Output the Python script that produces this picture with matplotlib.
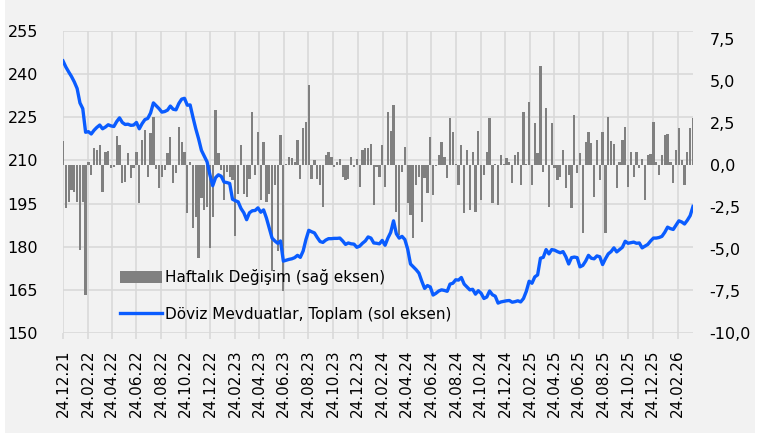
import pandas as pd
import numpy as np
import matplotlib
matplotlib.use("Agg")
import matplotlib.pyplot as plt
import matplotlib.dates as mdates
from matplotlib.patches import Rectangle

START_DATE = "2021-12-24"

# weekly FX deposits total (left axis)
level = [
    244.6, 242.5, 240.8, 239.2, 237.3, 235.0, 230.0, 228.0, 219.8, 220.0,
    219.2, 220.5, 221.5, 222.3, 221.0, 221.6, 222.4, 222.0, 221.8, 223.5,
    224.8, 223.2, 222.5, 222.6, 222.2, 222.3, 223.2, 221.0, 222.8, 224.2,
    224.6, 226.5, 230.0, 229.0, 228.0, 226.8, 227.0, 227.5, 228.9, 227.8,
    227.6, 229.8, 231.3, 231.6, 229.2, 229.3, 225.0, 221.0, 217.5, 213.5,
    211.5, 209.5, 205.0, 201.2, 204.0, 205.0, 204.5, 202.5, 202.3, 202.0,
    196.5, 196.0, 195.6, 193.3, 191.8, 189.4, 191.8, 192.5, 192.6, 193.5,
    192.0, 192.8, 190.0, 186.5, 183.0, 182.0, 181.2, 182.0, 175.0, 175.3,
    175.6, 175.8, 176.2, 177.0, 176.3, 178.5, 182.5, 185.7, 185.2, 184.8,
    183.2, 181.8, 181.5, 182.3, 182.8, 182.8, 182.9, 182.9, 183.0, 182.0,
    180.8, 181.3, 181.0, 180.9, 179.8, 180.2, 181.2, 182.0, 183.4, 183.0,
    181.3, 181.2, 181.0, 182.2, 180.5, 183.0, 185.0, 189.0, 184.5, 183.0,
    183.6, 182.5, 179.2, 174.0, 173.0, 172.0, 170.8, 168.0, 165.5, 166.5,
    166.0, 163.2, 163.8, 164.6, 165.0, 164.8, 164.5, 167.0, 167.3, 168.5,
    168.4, 169.3, 167.0, 166.0, 165.0, 165.2, 163.5, 164.7, 163.8, 162.0,
    162.5, 164.6, 163.3, 162.8, 160.4, 160.8, 161.0, 161.2, 161.3, 160.7,
    160.9, 161.2, 160.8, 162.0, 164.5, 168.0, 167.3, 169.5, 170.2, 176.0,
    176.3, 179.0, 177.5, 179.0, 178.8, 178.3, 177.9, 178.3, 176.5, 174.0,
    176.2, 176.4, 176.2, 173.0, 173.5, 175.0, 177.0, 176.0, 175.8, 176.8,
    176.5, 173.8, 175.8, 177.5, 178.3, 179.6, 178.2, 179.0, 179.8, 181.9,
    181.2, 181.4, 181.6, 181.2, 181.3, 179.6, 180.2, 180.8, 182.0, 183.0,
    183.0, 183.2, 183.6, 185.0, 186.8, 186.3, 186.0, 187.5, 189.0, 188.6,
    187.9, 189.2, 190.8, 194.0,
]

# weekly change (right axis)
change = [
    1.47, -2.56, -2.17, -1.47, -1.57, -2.17, -5.05, -2.17, -7.73, 0.2,
    -0.58, 1.0, 0.9, 1.2, -1.57, 0.8, 0.85, -0.18, -0.1, 1.77,
    1.2, -1.07, -1.0, 0.7, -0.78, -0.18, 0.8, -2.27, 1.5, 2.1,
    -0.7, 1.9, 2.9, -0.2, -1.37, -0.68, -0.28, 0.7, 1.7, -1.07,
    -0.48, 2.3, 1.4, 0.8, -2.86, 0.2, -3.76, -3.06, -5.55, -1.97,
    -2.66, -2.47, -4.95, -3.06, 3.3, 0.7, -0.3, -2.1, -0.4, -0.7,
    -0.9, -4.2, -1.7, 1.2, -1.7, -1.9, -0.8, 3.2, -0.6, 2.0,
    -2.1, 1.4, -2.2, -1.7, -6.3, -1.2, -5.1, 1.8, -7.5, 0.05,
    0.5, 0.45, 0.2, 1.5, -0.8, 2.2, 2.6, 4.8, -0.8, 0.3,
    -0.8, -1.2, -2.5, 0.6, 0.8, 0.5, -0.1, 0.2, 0.4, -0.7,
    -0.9, -0.8, 0.5, -0.1, 0.4, -1.3, 0.9, 1.0, 1.0, 1.25,
    -2.37, -0.1, -0.68, 1.2, -1.27, 3.2, 2.05, 3.6, -2.76, -4.15,
    -0.38, 1.1, -2.27, -2.96, -4.35, -1.17, -0.68, -3.36, -0.78, -1.67,
    1.7, -1.77, -0.05, 0.6, 1.4, 0.5, -0.78, 2.8, 2.0, 0.1,
    -1.17, 1.2, -2.86, 0.9, -2.66, 0.78, -2.76, 2.05, -2.07, -0.58,
    0.78, 2.8, -2.27, 0.05, -2.37, 0.6, 0.05, 0.46, 0.2, -1.07,
    0.6, 0.8, -1.17, 3.2, 0.1, 3.75, -1.2, 2.5, 0.7, 5.9,
    -0.38, 3.4, -2.47, 2.5, -0.18, -0.87, -0.68, 0.9, -1.37, -0.58,
    -2.56, 3.0, -0.48, 0.7, -4.05, 1.4, 2.0, 1.3, -1.87, 1.5,
    -0.87, 2.0, -4.05, 2.9, 1.45, 1.25, -1.33, 0.2, 1.5, 2.3,
    -1.27, 0.8, -0.68, 0.78, -0.18, 0.4, -2.07, 0.6, 0.65, 2.56,
    0.2, -0.58, 0.6, 1.8, 1.85, 0.2, -1.07, 0.9, 2.2, 0.3,
    -1.2, 0.8, 2.2, 2.8,
]

assert len(level) == len(change)
dates = pd.date_range(START_DATE, periods=len(level), freq="7D")

BG = "#F2F2F2"
GRID = "#D9D9D9"
plt.rcParams["font.family"] = ["DejaVu Sans"]
plt.rcParams["font.size"] = 11

fig = plt.figure(figsize=(7.57, 4.37), dpi=100, facecolor=BG)
# thin white margin on the left, bottom and right edges
for x0, y0, w, h in [(0, 0, 5 / 757, 1), (0, 0, 1, 4 / 437), (755 / 757, 0, 2 / 757, 1)]:
    fig.add_artist(Rectangle((x0, y0), w, h, transform=fig.transFigure,
                             facecolor="white", edgecolor="none"))

ax = fig.add_axes([63 / 757, 1 - 333 / 437, 630 / 757, 302 / 437])
ax.set_facecolor(BG)
ax.set_ylim(150, 255)
ax.set_yticks(np.arange(150, 256, 15))
ax.set_xlim(dates[0], dates[-1])
ax.xaxis.set_major_locator(mdates.MonthLocator(bymonth=[2, 4, 6, 8, 10, 12], bymonthday=24))
ax.xaxis.set_major_formatter(mdates.DateFormatter("%d.%m.%y"))
ax.grid(True, color=GRID, linewidth=1.2)
ax.set_axisbelow(True)

ax_bar = ax.twinx()
ax_line = ax.twinx()

bars = ax_bar.bar(dates, change, width=5.6, color="#808080", linewidth=0,
                  label="Haftalık Değişim (sağ eksen)")
line, = ax_line.plot(dates, level, color="#0A5CFF", lw=2.4,
                     label="Döviz Mevduatlar, Toplam (sol eksen)")

ax_line.set_ylim(150, 255)
ax_line.set_yticks([])
ax_bar.set_ylim(-10, 8)
right_ticks = np.arange(-10, 7.6, 2.5)
ax_bar.set_yticks(right_ticks)
ax_bar.set_yticklabels([f"{v:.1f}".replace(".", ",") for v in right_ticks])
ax.set_xlim(dates[0], dates[-1])
plt.setp(ax.get_xticklabels(), rotation=90)

for a in (ax, ax_bar, ax_line):
    for s in a.spines.values():
        s.set_visible(False)
ax.tick_params(axis="x", length=4, color=GRID, width=1.2, pad=8, labelsize=11)
ax.tick_params(axis="y", length=0, pad=18, labelsize=11.5)
ax_bar.tick_params(axis="y", length=0, pad=12, labelsize=11.5)

ax_line.legend([bars, line], [bars.get_label(), line.get_label()], loc="lower left",
               bbox_to_anchor=(0.068, -0.008), frameon=False, fontsize=11,
               handlelength=2.75, handleheight=0.8, handletextpad=0.2, labelspacing=1.4)

fig.savefig("out.png", dpi=100, facecolor=fig.get_facecolor())
